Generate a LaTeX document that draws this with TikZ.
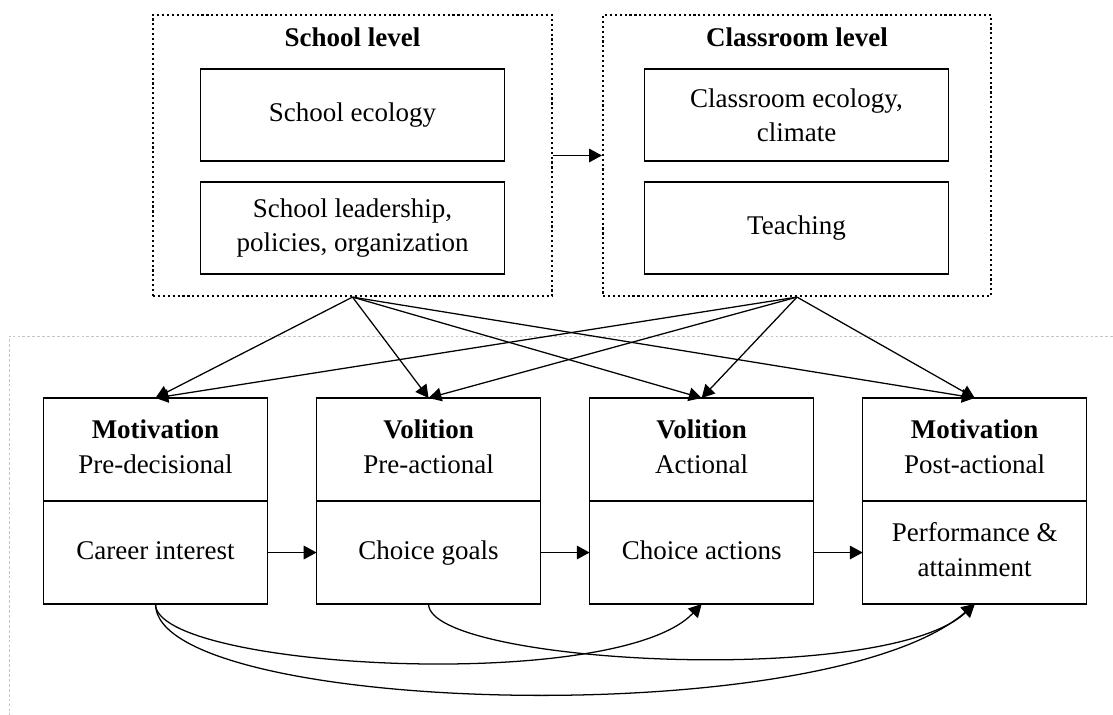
\documentclass[tikz,border=0pt]{standalone}
\usepackage{fontspec}
\setmainfont{Liberation Serif}
\usepackage{tikz}
\usetikzlibrary{arrows.meta,positioning}

\newcommand{\phstrut}{\rule[-4pt]{0pt}{17.4pt}}

\tikzset{
    txt/.style={font=\fontsize{19.2}{24.5}\selectfont, align=center},
    title/.style={font=\fontsize{19.2}{24.5}\selectfont\bfseries, align=center},
    level/.style={draw, line width=1.5pt, dotted, minimum height=7.025cm},
    inbox/.style={txt, draw, line width=0.9pt, minimum width=7.6cm, minimum height=2.3cm},
    phase/.style={txt, draw, line width=0.9pt, minimum width=5.6cm, minimum height=2.575cm, outer sep=0pt,
        execute at begin node=\phstrut, execute at end node=\phstrut},
    arr/.style={line width=0.9pt, -{Triangle[length=0.32cm,width=0.34cm]}}
}

\begin{document}
\begin{tikzpicture}[x=0.025cm, y=-0.025cm]
    \useasboundingbox (0,0) rectangle (1113,715);
    % Student frame
    \draw[gray!45, line width=0.4pt, dash pattern=on 2pt off 1.5pt] (1113,336) -- (9,336) -- (9,715);

    % School and classroom levels
    \node[level, minimum width=9.975cm] (school) at (352.5,155.5) {};
    \node[level, minimum width=9.7cm] (class) at (797,155.5) {};
    \node[title] (schooltitle) at (352.5,37) {School level};
    \node[title] (classtitle) at (797,37) {Classroom level};
    \node[inbox] (ecol) at (352.5,115) {School ecology};
    \node[inbox] (lead) at (352.5,228) {School leadership,\\policies, organization};
    \node[inbox] (cecol) at (796.5,115) {Classroom ecology,\\climate};
    \node[inbox] (teach) at (796.5,228) {Teaching};
    \draw[arr] (school) -- (class);

    % Phases
    \node[phase] (pd) at (155.5,449.5) {\textbf{Motivation}\\Pre-decisional};
    \node[phase, right=1.225cm of pd] (pa) {\textbf{Volition}\\Pre-actional};
    \node[phase, right=1.225cm of pa] (ac) {\textbf{Volition}\\Actional};
    \node[phase, right=1.225cm of ac] (po) {\textbf{Motivation}\\Post-actional};

    % Stages
    \node[phase, below=0pt of pd] (ci) {Career interest};
    \node[phase, below=0pt of pa] (cg) {Choice goals};
    \node[phase, below=0pt of ac] (ca) {Choice actions};
    \node[phase, below=0pt of po] (pf) {Performance \&\\attainment};
    \draw[arr] (ci) -- (cg);
    \draw[arr] (cg) -- (ca);
    \draw[arr] (ca) -- (pf);

    % Level effects
    \foreach \p in {pd,pa,ac,po} {
        \draw[arr] (school.south) -- (\p.north);
        \draw[arr] (class.south) -- (\p.north);
    }

    % Long-range links
    \draw[arr] (ci.south) .. controls +(0,65) and +(-85,90) .. (ca.south);
    \draw[arr] (ci.south) .. controls +(0,110) and +(-150,130) .. (pf.south);
    \draw[arr] (cg.south) .. controls +(0,60) and +(-90,84) .. (pf.south);
\end{tikzpicture}
\end{document}
